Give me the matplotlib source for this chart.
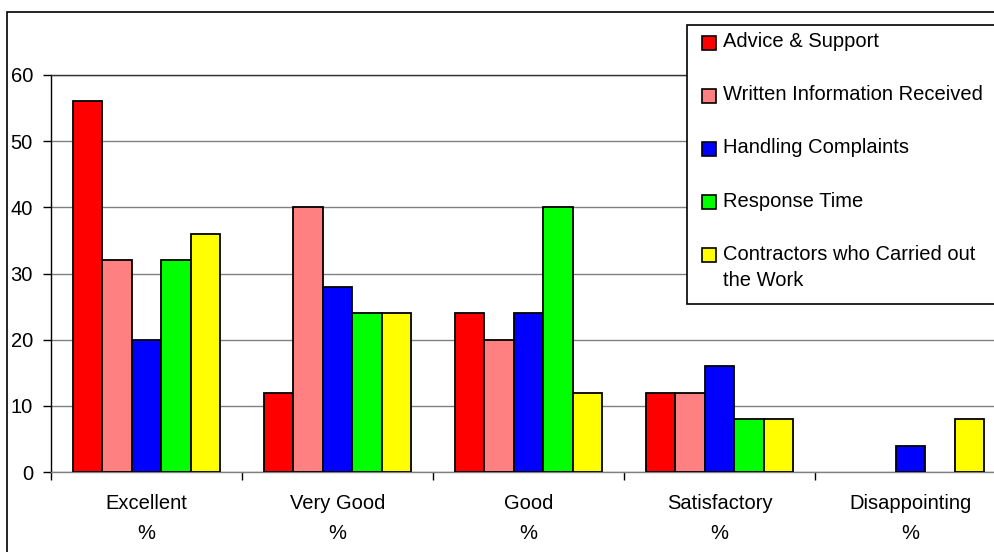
import numpy as np
import matplotlib.pyplot as plt
from matplotlib.patches import Rectangle

plt.rcParams['font.family'] = ['Liberation Sans', 'DejaVu Sans']

categories = ['Excellent\n%', 'Very Good\n%', 'Good\n%', 'Satisfactory\n%', 'Disappointing\n%']
series_names = ['Advice & Support', 'Written Information Received', 'Handling Complaints',
                'Response Time', 'Contractors who Carried out\nthe Work']
colors = ['#ff0000', '#ff8080', '#0000ff', '#00ff00', '#ffff00']

advice = [56, 12, 24, 12, 0]
written = [32, 40, 20, 12, 0]
complaints = [20, 28, 24, 16, 4]
response = [32, 24, 40, 8, 0]
contractors = [36, 24, 12, 8, 8]
values = [advice, written, complaints, response, contractors]

W, H = 995, 552
FS = 14.5
fig = plt.figure(figsize=(W / 100, H / 100), dpi=100)
ax = fig.add_axes([51 / W, (H - 472) / H, (1006 - 51) / W, (472 - 75) / H])

x = np.arange(len(categories))
bw = 1 / 6.5
for i, (vals, c) in enumerate(zip(values, colors)):
    lw = [1.3 if v > 0 else 0 for v in vals]
    ax.bar(x + (i - 2) * bw, vals, bw, color=c, edgecolor='black', linewidth=lw, zorder=3)

ax.set_xlim(-0.5, len(categories) - 0.5)
ax.set_ylim(0, 60)
ax.set_yticks(range(0, 61, 10))
ax.yaxis.grid(True, color='#808080', linewidth=1, zorder=0)
ax.set_xticks(np.arange(-0.5, len(categories), 1))
ax.set_xticklabels([])
ax.set_xticks(x, minor=True)
ax.set_xticklabels(categories, minor=True, linespacing=1.75)
ax.tick_params(axis='x', which='major', length=6, width=1, color='black', direction='out')
ax.tick_params(axis='x', which='minor', length=0, pad=16, labelsize=FS)
ax.tick_params(axis='y', length=6, width=1, color='black', pad=7, labelsize=FS)
ax.spines['right'].set_visible(False)
ax.spines['top'].set_color('#303030')
ax.spines['left'].set_color('black')
ax.spines['bottom'].set_color('#808080')
for s in ax.spines.values():
    s.set_linewidth(1)

# chart-area border
fig.patches.append(Rectangle((7.5 / W, -0.1), 1.2, (H - 12) / H + 0.1, transform=fig.transFigure,
                             fill=False, edgecolor='black', linewidth=1.2))

# legend box
fig.patches.append(Rectangle((686.5 / W, (H - 304) / H), 0.4, (304 - 24.5) / H, transform=fig.transFigure,
                             facecolor='white', edgecolor='black', linewidth=1.2, zorder=5))
for i, (name, c) in enumerate(zip(series_names, colors)):
    yc = 42.5 + i * 53.2
    fig.patches.append(Rectangle((702 / W, (H - yc - 7) / H), 14 / W, 14 / H, transform=fig.transFigure,
                                 facecolor=c, edgecolor='black', linewidth=1.2, zorder=6))
    for k, line in enumerate(name.split('\n')):
        fig.text(723 / W, (H - yc - 4.5 - k * 26.7) / H, line, fontsize=FS, va='baseline',
                 ha='left', zorder=7)

fig.savefig('out.png', dpi=100)
